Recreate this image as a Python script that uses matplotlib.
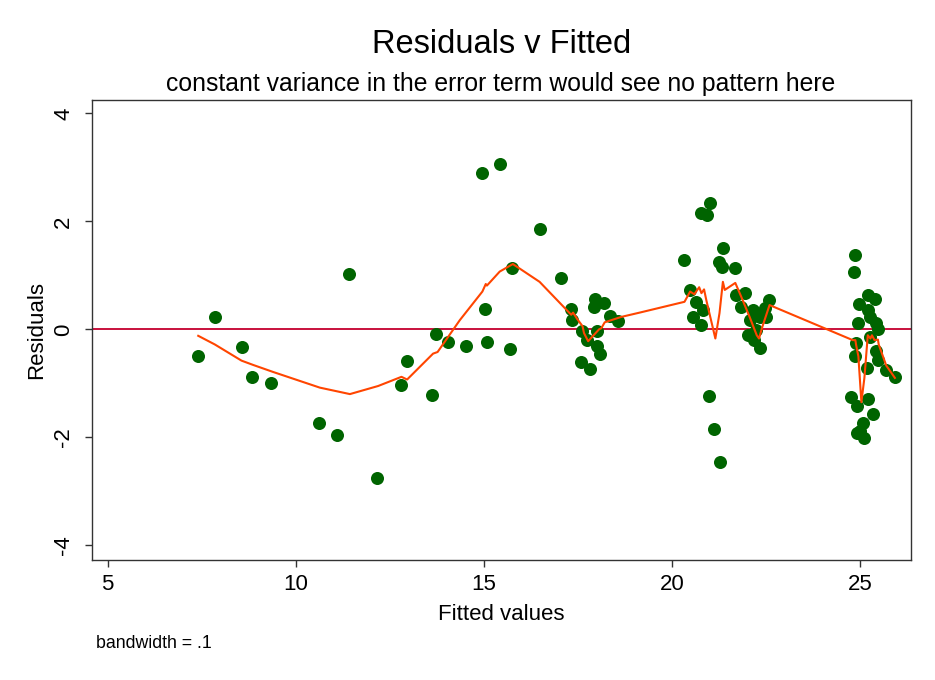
import numpy as np
import matplotlib.pyplot as plt

plt.rcParams['font.family'] = ['Liberation Sans', 'DejaVu Sans']

# residuals vs fitted values
fitted = [7.40, 7.85, 8.56, 8.84, 9.35, 10.62, 11.10, 11.42, 12.16, 12.80,
          12.95, 13.62, 13.73, 14.05, 14.52, 14.95, 15.03, 15.08, 15.43, 15.75,
          15.69, 16.49, 17.04, 17.31, 17.33, 17.61, 17.73, 17.58, 17.82, 17.95,
          17.92, 18.19, 18.01, 18.01, 18.08, 18.35, 18.57,
          20.33, 21.02, 20.78, 20.94, 21.35, 21.26, 21.32, 21.68, 20.48, 20.63,
          20.82, 20.55, 20.78, 20.98, 21.11, 21.27, 21.71, 21.95, 21.84, 22.15,
          22.06, 22.33, 22.57, 22.46, 22.50, 22.01, 22.19, 22.33, 22.24,
          24.86, 24.83, 25.20, 25.38, 24.96, 25.20, 24.94, 25.25, 25.42, 25.47,
          25.25, 24.89, 24.87, 25.42, 25.47, 25.19, 25.69, 25.91, 24.76, 24.92,
          25.20, 25.33, 25.07, 24.92, 25.11, 24.98]
resid = [-0.50, 0.23, -0.32, -0.89, -1.00, -1.73, -1.95, 1.02, -2.76, -1.04,
         -0.59, -1.21, -0.09, -0.23, -0.30, 2.89, 0.37, -0.24, 3.06, 1.13,
         -0.36, 1.86, 0.96, 0.37, 0.17, -0.03, -0.20, -0.61, -0.74, 0.57,
         0.41, 0.48, -0.04, -0.30, -0.45, 0.25, 0.16,
         1.28, 2.35, 2.16, 2.11, 1.50, 1.25, 1.16, 1.13, 0.73, 0.51,
         0.36, 0.22, 0.08, -1.24, -1.84, -2.45, 0.64, 0.67, 0.41, 0.36,
         0.17, 0.23, 0.54, 0.39, 0.23, -0.11, -0.20, -0.35, -0.01,
         1.38, 1.06, 0.64, 0.56, 0.47, 0.36, 0.11, 0.22, 0.11, 0.00,
         -0.14, -0.25, -0.50, -0.40, -0.57, -0.72, -0.76, -0.89, -1.26, -1.42,
         -1.30, -1.57, -1.74, -1.93, -2.02, -1.89]

# lowess smooth (bandwidth .1), vertices
lw_x = [7.41, 7.85, 8.56, 8.87, 9.40, 10.64, 11.44, 12.19, 12.81, 12.96,
        13.65, 13.77, 14.36, 14.96, 15.05, 15.08, 15.42, 15.77, 16.48, 17.32,
        17.37, 17.48, 17.62, 17.66, 17.77, 18.06, 18.12, 18.21, 18.65, 19.14,
        20.33, 20.48, 20.59, 20.72, 20.78, 20.85, 20.91, 21.15, 21.26, 21.35,
        21.40, 21.68, 21.84, 22.06, 22.25, 22.31, 22.40, 22.59, 22.86,
        24.80, 24.87, 24.89, 24.95, 25.03, 25.11, 25.20, 25.27, 25.31, 25.38,
        25.47, 25.49, 25.69, 25.92]
lw_y = [-0.12, -0.28, -0.58, -0.66, -0.79, -1.08, -1.20, -1.05, -0.88, -0.93,
        -0.45, -0.42, 0.17, 0.70, 0.84, 0.81, 1.07, 1.21, 0.88, 0.27,
        0.31, 0.19, 0.06, -0.07, -0.22, 0.00, 0.02, 0.13, 0.23, 0.31,
        0.51, 0.70, 0.65, 0.78, 0.67, 0.74, 0.54, -0.17, 0.30, 0.88,
        0.73, 0.86, 0.60, 0.23, -0.11, -0.17, 0.05, 0.45, 0.37,
        -0.20, -0.20, -0.29, -0.50, -1.35, -0.90, -0.11, -0.17, -0.11, -0.20,
        -0.19, -0.28, -0.67, -0.90]

xticks = [5, 10, 15, 20, 25]
yticks = [-4, -2, 0, 2, 4]

fig = plt.figure(figsize=(9.35, 6.8), dpi=100)
ax = fig.add_axes([0.0985, 0.176, 0.8755, 0.677])

ax.scatter(fitted, resid, s=88, color='#006400', zorder=2, linewidths=0)
ax.plot(lw_x, lw_y, color='#ff4500', linewidth=1.5, zorder=3)
ax.axhline(0, color='#c8103c', linewidth=1.4, zorder=1)

ax.set_xlim(4.59, 26.34)
ax.set_ylim(-4.28, 4.25)
ax.set_xticks(xticks)
ax.set_yticks(yticks)
ax.set_yticklabels([str(t) for t in yticks], rotation=90, va='center')
ax.tick_params(labelsize=16, length=5, width=1, color='#333333')
ax.tick_params(axis='y', pad=8)
ax.tick_params(axis='x', pad=5)
for sp in ax.spines.values():
    sp.set_color('#333333')
    sp.set_linewidth(1)

ax.set_xlabel('Fitted values', fontsize=16, labelpad=6)
ax.set_ylabel('Residuals', fontsize=16, labelpad=4)

fig.text(0.537, 0.934, 'Residuals v Fitted', ha='center', va='center', fontsize=23.5)
fig.text(0.535, 0.876, 'constant variance in the error term would see no pattern here',
         ha='center', va='center', fontsize=17.8)
fig.text(0.103, 0.054, 'bandwidth = .1', ha='left', va='center', fontsize=12.8)

fig.savefig('out.png', dpi=100)
